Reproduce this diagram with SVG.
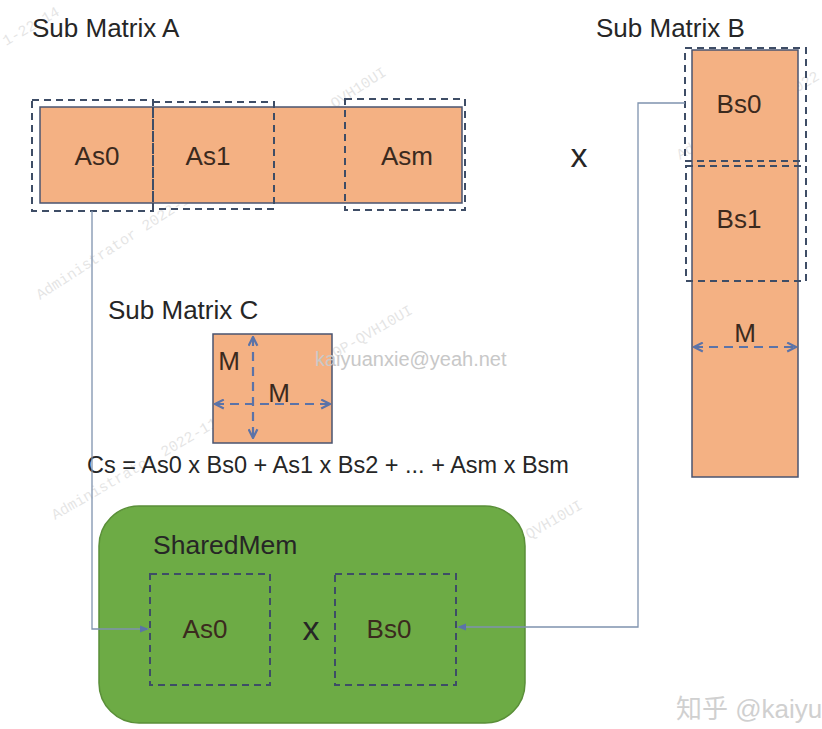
<svg xmlns="http://www.w3.org/2000/svg" width="822" height="729" viewBox="0 0 822 729">
<defs>
<style>
.t{font-family:"Liberation Sans","Noto Sans",Arial,sans-serif;fill:#262626}
.lbl{font-size:26px}
.cell{font-size:26px;text-anchor:middle;fill:#3b2a1e}
.mat{fill:#F4B183;stroke:#4A5470;stroke-width:1.5}
.dash{fill:none;stroke:#3E4D66;stroke-width:2;stroke-dasharray:7,5}
.conn{fill:none;stroke:#7F93AE;stroke-width:1.3}
.dim{fill:none;stroke:#5B73A8;stroke-width:2.2;stroke-dasharray:9,6}
.wm{font-family:"Liberation Mono","DejaVu Sans Mono",monospace;font-size:15px;fill:#000;opacity:0.1}
</style>
<marker id="ah" viewBox="0 0 10 10" refX="9" refY="5" markerWidth="7" markerHeight="7" orient="auto-start-reverse">
<path d="M0,1 L10,5 L0,9 z" fill="#5B73A8"/>
</marker>
<marker id="oa" viewBox="0 0 10 10" refX="9" refY="5" markerWidth="11" markerHeight="11" orient="auto-start-reverse" markerUnits="userSpaceOnUse">
<path d="M1,1 L9,5 L1,9" fill="none" stroke="#5B73A8" stroke-width="2"/>
</marker>
</defs>
<rect width="822" height="729" fill="#ffffff"/>

<g id="watermarks">
<text class="wm" transform="translate(6,46) rotate(-30)">1-22 14</text>
<text class="wm" transform="translate(40,300) rotate(-33)">Administrator 2022-11-22 14:59 DESKTOP-QVH10UI</text>
<text class="wm" transform="translate(55,520) rotate(-30)">Administrator 2022-11-22 14:59 DESKTOP-QVH10UI</text>
<text class="wm" transform="translate(225,715) rotate(-30)">Administrator 2022-11-22 14:59 DESKTOP-QVH10UI</text>
<text class="wm" transform="translate(680,160) rotate(-30)">Administrator 2022</text>
</g>

<g id="submatrixA">
<text class="t lbl" x="32" y="37">Sub Matrix A</text>
<rect class="mat" x="40" y="107" width="422" height="96"/>
<g id="As0"><rect class="dash" x="32" y="100" width="121" height="111"/><text class="t cell" x="97" y="165">As0</text></g>
<g id="As1"><rect class="dash" x="153" y="102" width="121" height="107"/><text class="t cell" x="208" y="165">As1</text></g>
<g id="Asm"><rect class="dash" x="345" y="99" width="120" height="111"/><text class="t cell" x="407" y="165">Asm</text></g>
</g>

<g id="times1"><text class="t" x="579" y="167" font-size="34" text-anchor="middle" fill="#111">x</text></g>

<g id="submatrixB">
<text class="t lbl" x="596" y="37">Sub Matrix B</text>
<rect class="mat" x="692" y="50" width="106" height="427"/>
<g id="Bs0"><rect class="dash" x="685" y="48" width="121" height="113"/><text class="t cell" x="739" y="113">Bs0</text></g>
<g id="Bs1"><rect class="dash" x="686" y="166" width="120" height="115"/><text class="t cell" x="739" y="228">Bs1</text></g>
<text class="t cell" x="745" y="342">M</text>
<line class="dim" x1="694" y1="347" x2="796" y2="347" marker-start="url(#oa)" marker-end="url(#oa)"/>
</g>

<g id="submatrixC">
<text class="t lbl" x="108" y="319">Sub Matrix C</text>
<rect class="mat" x="213" y="334" width="119" height="109"/>
<text class="t cell" x="229" y="370">M</text>
<text class="t cell" x="279" y="402">M</text>
<line class="dim" x1="253" y1="337" x2="253" y2="438" marker-start="url(#oa)" marker-end="url(#oa)"/>
<line class="dim" x1="215" y1="404" x2="330" y2="404" marker-start="url(#oa)" marker-end="url(#oa)"/>
</g>

<g id="email"><text x="315" y="366" font-family="Liberation Sans,Arial,sans-serif" font-size="20" fill="#c8c8c8">kaiyuanxie@yeah.net</text></g>

<g id="equation"><text class="t" x="87" y="473" font-size="23.5" fill="#111">Cs = As0 x Bs0 + As1 x Bs2 + ... + Asm x Bsm</text></g>

<g id="sharedmem">
<rect x="99" y="506" width="426" height="217" rx="40" ry="40" fill="#6DAB45" stroke="#5A8F38" stroke-width="1.5"/>
<text class="t" x="153" y="554" font-size="26.5" fill="#1E3A10">SharedMem</text>
<g id="smAs0"><rect class="dash" x="150" y="574" width="120" height="111"/><text class="t cell" x="205" y="638" fill="#1E3A10">As0</text></g>
<g id="smBs0"><rect class="dash" x="335" y="574" width="121" height="111"/><text class="t cell" x="389" y="638" fill="#1E3A10">Bs0</text></g>
<text class="t" x="311" y="640" font-size="34" text-anchor="middle" fill="#111">x</text>
</g>

<g id="connectors">
<polyline class="conn" points="92,211 92,629 148,629" marker-end="url(#ah)"/>
<polyline class="conn" points="685,103 638,103 638,627 458,627" marker-end="url(#ah)"/>
</g>

<g id="zhihu"><text x="676" y="718" font-family="Liberation Sans,'Noto Sans CJK SC',sans-serif" font-size="26" fill="#d0d0d0">知乎 @kaiyu</text></g>
</svg>
